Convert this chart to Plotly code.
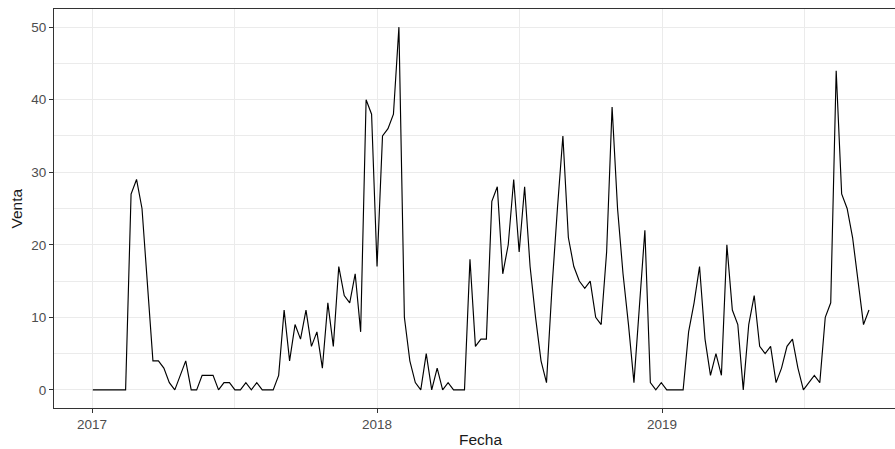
import pandas as pd
import plotly.graph_objects as go

# Weekly sales series
start_date = "2017-01-02"
venta = [
    0, 0, 0, 0, 0, 0, 0, 27, 29, 25,
    15, 4, 4, 3, 1, 0, 2, 4, 0, 0,
    2, 2, 2, 0, 1, 1, 0, 0, 1, 0,
    1, 0, 0, 0, 2, 11, 4, 9, 7, 11,
    6, 8, 3, 12, 6, 17, 13, 12, 16, 8,
    40, 38, 17, 35, 36, 38, 50, 10, 4, 1,
    0, 5, 0, 3, 0, 1, 0, 0, 0, 18,
    6, 7, 7, 26, 28, 16, 20, 29, 19, 28,
    17, 10, 4, 1, 14, 25, 35, 21, 17, 15,
    14, 15, 10, 9, 19, 39, 25, 16, 9, 1,
    12, 22, 1, 0, 1, 0, 0, 0, 0, 8,
    12, 17, 7, 2, 5, 2, 20, 11, 9, 0,
    9, 13, 6, 5, 6, 1, 3, 6, 7, 3,
    0, 1, 2, 1, 10, 12, 44, 27, 25, 21,
    15, 9, 11,
]
fecha = pd.date_range(start=start_date, periods=len(venta), freq="7D")

year_ticks = ["2017-01-01", "2018-01-01", "2019-01-01"]
year_labels = ["2017", "2018", "2019"]
y_ticks = [0, 10, 20, 30, 40, 50]

# ggplot-like expansion (5%), panel cut by the window on the right
W, H = 895, 449
ml, mt, mb = 54, 9, 41
dmin, dmax = fecha.min(), fecha.max()
span = dmax - dmin
x0 = dmin - span * 0.05
x1_full = dmax + span * 0.05
full_px = 853.8
vis_px = W - ml
x1 = x0 + (x1_full - x0) * (vis_px / full_px)
xmid = x0 + (x1_full - x0) / 2

ymin, ymax = min(venta), max(venta)
yspan = ymax - ymin
y0r, y1r = ymin - 0.05 * yspan, ymax + 0.05 * yspan

grid = "#EBEBEB"
font_family = "Liberation Sans, Arial, sans-serif"
tick_size = 13.5
title_size = 15.5

fig = go.Figure()
fig.add_trace(go.Scatter(
    x=fecha, y=venta, mode="lines",
    line=dict(color="black", width=1.15),
    hoverinfo="x+y", showlegend=False,
))

fig.update_layout(
    width=W, height=H,
    margin=dict(l=ml, r=0, t=mt, b=mb, pad=0, autoexpand=False),
    paper_bgcolor="white", plot_bgcolor="white",
    font=dict(family=font_family, color="#4D4D4D", size=tick_size),
    xaxis=dict(
        type="date", range=[x0, x1], automargin=False,
        tickvals=year_ticks, ticktext=year_labels,
        ticks="outside", ticklen=4, tickwidth=1, tickcolor="#333333",
        tickfont=dict(size=tick_size, color="#4D4D4D"),
        showgrid=True, gridcolor=grid, gridwidth=1,
        minor=dict(tick0="2016-07-02", dtick="M12", showgrid=True,
                   gridcolor=grid, gridwidth=0.6, ticks=""),
        showline=True, linecolor="#333333", linewidth=1, mirror=True,
        zeroline=False,
    ),
    yaxis=dict(
        range=[y0r, y1r], automargin=False,
        tickvals=y_ticks,
        ticks="outside", ticklen=4, tickwidth=1, tickcolor="#333333",
        tickfont=dict(size=tick_size, color="#4D4D4D"),
        showgrid=True, gridcolor=grid, gridwidth=1,
        minor=dict(tick0=5, dtick=10, showgrid=True,
                   gridcolor=grid, gridwidth=0.6, ticks=""),
        showline=True, linecolor="#333333", linewidth=1, mirror=False,
        zeroline=False,
    ),
    annotations=[
        dict(text="Fecha", xref="x", x=xmid, yref="paper", y=-0.08,
             xanchor="center", yanchor="middle", showarrow=False,
             font=dict(size=title_size, color="#1A1A1A", family=font_family)),
        dict(text="Venta", xref="paper", x=-0.044, yref="paper", y=0.5,
             xanchor="center", yanchor="middle", showarrow=False, textangle=-90,
             font=dict(size=title_size, color="#1A1A1A", family=font_family)),
    ],
)

fig.write_html(
    "out.html",
    config={"displayModeBar": False},
    post_script="document.body.style.margin='0';document.body.style.overflow='hidden';",
)
